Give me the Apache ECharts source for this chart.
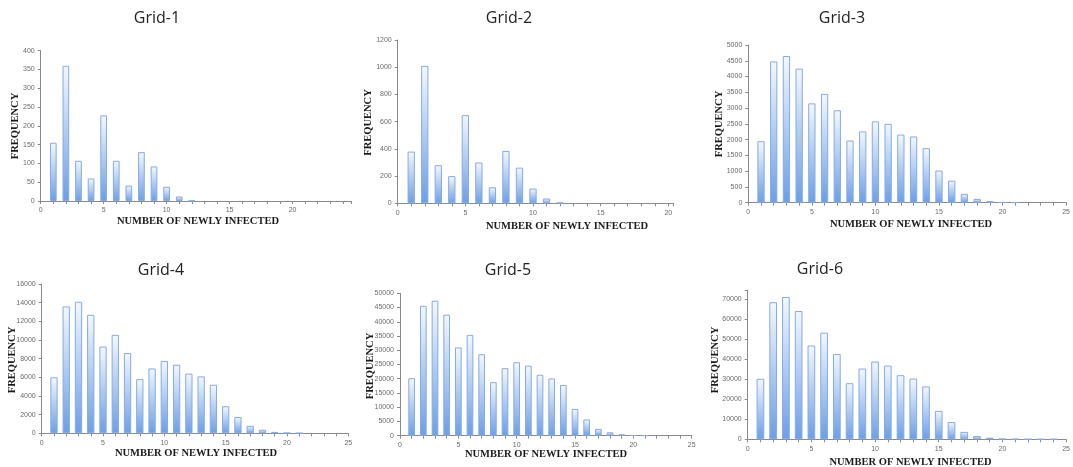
<!DOCTYPE html>
<html>
<head>
<meta charset="utf-8">
<script src="https://cdn.jsdelivr.net/npm/echarts@6/dist/echarts.min.js"></script>
<style>
html,body{margin:0;padding:0;background:#fff;}
#c{width:1073px;height:467px;}
</style>
</head>
<body>
<div id="c"></div>
<script>
// ---- data ----
const panelTitles = ['Grid-1', 'Grid-2', 'Grid-3', 'Grid-4', 'Grid-5', 'Grid-6'];
const xAxisTitle = 'NUMBER OF NEWLY INFECTED';
const yAxisTitle = 'FREQUENCY';
const newlyInfected = [1, 2, 3, 4, 5, 6, 7, 8, 9, 10, 11, 12, 13, 14, 15, 16, 17, 18, 19, 20, 21, 22, 23, 24];

const grid1Freq = [155, 360, 107, 60, 228, 107, 41, 130, 92, 38, 12, 1];
const grid2Freq = [380, 1010, 280, 200, 648, 300, 118, 385, 262, 108, 35, 5];
const grid3Freq = [1950, 4480, 4650, 4250, 3150, 3450, 2930, 1970, 2260, 2580, 2500, 2160, 2100, 1730, 1020, 700, 280, 120, 50, 15, 10];
const grid4Freq = [6000, 13600, 14100, 12700, 9300, 10550, 8600, 5800, 6950, 7750, 7350, 6400, 6100, 5200, 2900, 1750, 800, 380, 150, 60, 30];
const grid5Freq = [20200, 45600, 47400, 42500, 31000, 35400, 28600, 18800, 23700, 25800, 24600, 21400, 20100, 17800, 9400, 5700, 2400, 1200, 500, 150, 80];
const grid6Freq = [30200, 68400, 71000, 64000, 46800, 53200, 42600, 28000, 35300, 38800, 36800, 32000, 30300, 26400, 14200, 8600, 3700, 1600, 800, 250, 120, 80, 60, 50];

const yMax = [400, 1200, 5000, 16000, 50000, 74500];
const yStep = [50, 200, 500, 2000, 5000, 10000];
const xMax = [24.7, 20.37, 25, 25, 25, 25];
const xLabelStep = 5;

// ---- layout (pixels) ----
const layout = [
  {left: 40.7, top: 50.7, width: 311, height: 150.3, bw: 6.7, title: [157, 18], xt: [198, 221], yt: [15, 126]},
  {left: 397.7, top: 40, width: 275.6, height: 163.3, bw: 7.3, title: [509, 18], xt: [567, 226.7], yt: [368.3, 122.5]},
  {left: 748.3, top: 45, width: 325, height: 157.7, bw: 7.3, title: [842, 18], xt: [911, 224.3], yt: [719, 124]},
  {left: 41.7, top: 284, width: 306.6, height: 149.3, bw: 7.3, title: [161, 270], xt: [196, 453.3], yt: [12.3, 360]},
  {left: 400, top: 293.3, width: 291.7, height: 142.4, bw: 6.7, title: [508, 270], xt: [546, 454.3], yt: [370.7, 366]},
  {left: 747.7, top: 290, width: 327, height: 149.3, bw: 7.7, title: [820, 269], xt: [910.5, 462.3], yt: [715.7, 360]}
];

const freqs = [grid1Freq, grid2Freq, grid3Freq, grid4Freq, grid5Freq, grid6Freq];

const axisGray = '#8a8a8a';
const labelGray = '#6a6a6a';

const grids = [], xAxes = [], yAxes = [], series = [], graphics = [];

layout.forEach((L, i) => {
  grids.push({left: L.left, top: L.top, width: L.width, height: L.height, containLabel: false});
  xAxes.push({
    type: 'value', gridIndex: i, min: 0, max: xMax[i], interval: 1,
    axisLine: {show: true, lineStyle: {color: axisGray, width: 1}},
    axisTick: {show: true, length: 3, lineStyle: {color: axisGray}},
    splitLine: {show: false},
    axisLabel: {
      fontSize: 7, color: labelGray, margin: 6, fontFamily: 'Liberation Sans',
      formatter: v => (Math.abs(v % xLabelStep) < 1e-9 ? String(v) : ''),
      showMaxLabel: true
    }
  });
  yAxes.push({
    type: 'value', gridIndex: i, min: 0, max: yMax[i], interval: yStep[i],
    axisLine: {show: true, lineStyle: {color: axisGray, width: 1}},
    axisTick: {show: true, length: 3, lineStyle: {color: axisGray}},
    splitLine: {show: false},
    axisLabel: {
      fontSize: 7, color: labelGray, margin: 6, fontFamily: 'Liberation Sans',
      formatter: v => (v % yStep[i] === 0 ? String(v) : '')
    }
  });
  series.push({
    type: 'bar', xAxisIndex: i, yAxisIndex: i, barWidth: L.bw,
    data: freqs[i].map((v, k) => [newlyInfected[k], v]),
    itemStyle: {
      color: new echarts.graphic.LinearGradient(0, 0, 0, 1, [
        {offset: 0, color: '#f4f8fe'},
        {offset: 1, color: '#6c9ee8'}
      ]),
      borderColor: '#86abdf',
      borderWidth: 1
    },
    silent: true,
    animation: false
  });
  graphics.push({
    type: 'text', x: L.title[0], y: L.title[1],
    style: {text: panelTitles[i], font: '16px "Open Sans"', fill: '#222', textAlign: 'center', textVerticalAlign: 'middle'}
  });
  graphics.push({
    type: 'text', x: L.xt[0], y: L.xt[1],
    style: {text: xAxisTitle, font: 'bold 10.5px "Liberation Serif"', fill: '#1a1a1a', textAlign: 'center', textVerticalAlign: 'middle'}
  });
  graphics.push({
    type: 'text', x: L.yt[0], y: L.yt[1], rotation: Math.PI / 2,
    style: {text: yAxisTitle, font: 'bold 10.5px "Liberation Serif"', fill: '#1a1a1a', textAlign: 'center', textVerticalAlign: 'middle'}
  });
});

const chart = echarts.init(document.getElementById('c'), null, {renderer: 'canvas'});
chart.setOption({
  animation: false,
  backgroundColor: '#fff',
  grid: grids,
  xAxis: xAxes,
  yAxis: yAxes,
  series: series,
  graphic: graphics
});
</script>
</body>
</html>
